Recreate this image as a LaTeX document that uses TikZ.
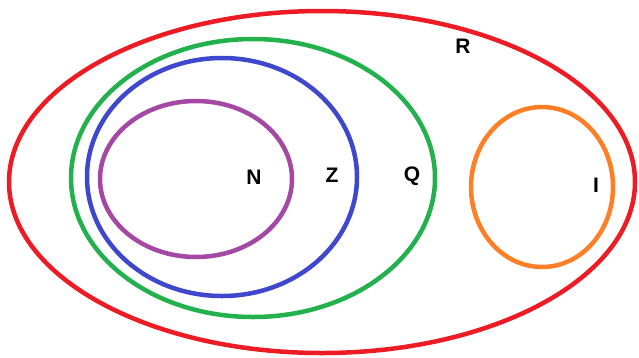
\documentclass[tikz,border=0pt]{standalone}
\usepackage{fontspec}
\setmainfont{Liberation Sans}
\usetikzlibrary{positioning}
\definecolor{setR}{RGB}{237,28,36}
\definecolor{setQ}{RGB}{34,177,76}
\definecolor{setZ}{RGB}{63,72,204}
\definecolor{setN}{RGB}{163,73,164}
\definecolor{setI}{RGB}{255,127,39}
\tikzset{
  setline/.style={line width=4.5pt},
  setlabel/.style={font=\fontsize{21}{24}\selectfont\bfseries,inner sep=0pt}
}

\begin{document}
\begin{tikzpicture}[x=1pt,y=-1pt]
\useasboundingbox (0,0) rectangle (639,357);
% the number sets
\draw[setline,setR] (322,182) ellipse [x radius=313pt,y radius=171pt];
\draw[setline,setQ] (253,178) ellipse [x radius=182pt,y radius=139pt];
\draw[setline,setZ] (222,177) ellipse [x radius=135pt,y radius=119pt];
\draw[setline,setN] (196,179) ellipse [x radius=96pt,y radius=78pt];
\draw[setline,setI] (542,187) ellipse [x radius=71pt,y radius=80pt];
% labels
\node[setlabel] (labR) at (463,46) {R};
\node[setlabel] (labN) at (254,177) {N};
\node[setlabel] (labZ) at (332,175) {Z};
\node[setlabel] (labQ) at (412,176) {Q};
\node[setlabel] (labI) at (596,185) {I};
\end{tikzpicture}
\end{document}
